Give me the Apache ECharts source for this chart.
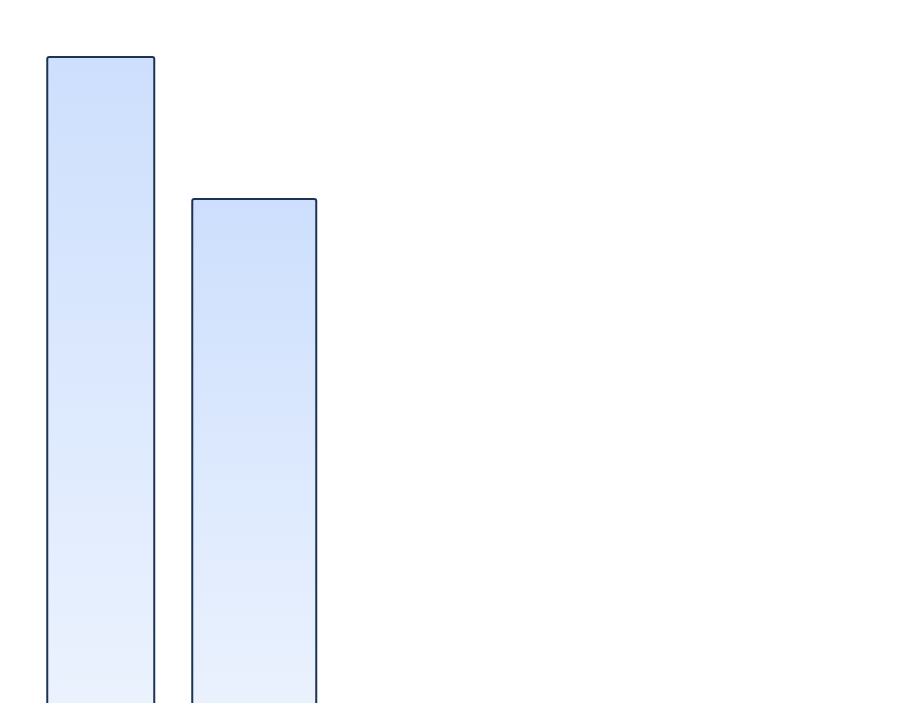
<!DOCTYPE html>
<html>
<head>
<meta charset="utf-8">
<script src="https://cdn.jsdelivr.net/npm/echarts@6/dist/echarts.min.js"></script>
<style>
  html, body { margin: 0; padding: 0; background: #fff; }
  #main { width: 900px; height: 703px; }
</style>
</head>
<body>
<div id="main"></div>
<script>
// data
var categories = ['A', 'B'];
var firstValues = [100, '-'];
var secondValues = ['-', 80];

var chart = echarts.init(document.getElementById('main'));

var fill = new echarts.graphic.LinearGradient(0, 0, 0, 1, [
    { offset: 0, color: '#cddffd' },
    { offset: 1, color: '#eef4fe' }
]);

var barStyle = {
    color: fill,
    borderColor: '#1d3353',
    borderWidth: 2,
    borderRadius: 2
};

chart.setOption({
    animation: false,
    grid: {
        left: 24, width: 307, top: 56, height: 710,
        outerBoundsMode: 'none', containLabel: false
    },
    xAxis: [
        { type: 'category', data: categories, show: false },
        { type: 'category', data: categories, show: false }
    ],
    yAxis: { type: 'value', min: 0, max: 100, show: false },
    series: [
        {
            type: 'bar',
            xAxisIndex: 0,
            barWidth: 109,
            data: firstValues,
            itemStyle: barStyle
        },
        {
            type: 'bar',
            xAxisIndex: 1,
            barWidth: 126,
            data: secondValues,
            itemStyle: barStyle
        }
    ]
});
</script>
</body>
</html>
